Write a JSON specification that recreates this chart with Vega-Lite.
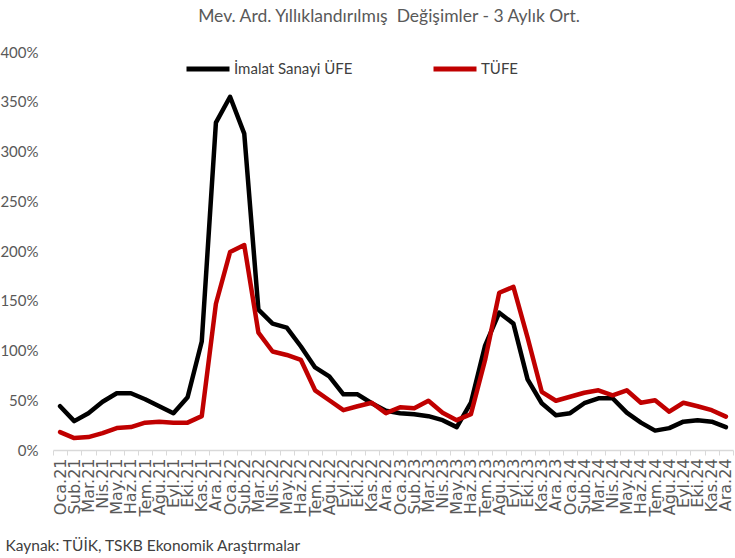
{
  "$schema": "https://vega.github.io/schema/vega-lite/v6.json",
  "width": 680,
  "height": 398,
  "autosize": {"type": "none"},
  "padding": {"left": 53, "top": 52, "right": 2, "bottom": 108},
  "background": "white",
  "config": {"view": {"stroke": null}},
  "title": {
    "text": "Mev. Ard. Yıllıklandırılmış\u00a0 Değişimler - 3 Aylık Ort.",
    "font": "Lato",
    "fontSize": 17.5,
    "fontWeight": "normal",
    "color": "#595959",
    "anchor": "middle",
    "dx": -4,
    "offset": 20
  },
  "data": {
    "values": [
      {"ay":"Oca.21","seri":"İmalat Sanayi ÜFE","deger":0.44},
      {"ay":"Şub.21","seri":"İmalat Sanayi ÜFE","deger":0.29},
      {"ay":"Mar.21","seri":"İmalat Sanayi ÜFE","deger":0.37},
      {"ay":"Nis.21","seri":"İmalat Sanayi ÜFE","deger":0.485},
      {"ay":"May.21","seri":"İmalat Sanayi ÜFE","deger":0.57},
      {"ay":"Haz.21","seri":"İmalat Sanayi ÜFE","deger":0.57},
      {"ay":"Tem.21","seri":"İmalat Sanayi ÜFE","deger":0.51},
      {"ay":"Ağu.21","seri":"İmalat Sanayi ÜFE","deger":0.44},
      {"ay":"Eyl.21","seri":"İmalat Sanayi ÜFE","deger":0.37},
      {"ay":"Eki.21","seri":"İmalat Sanayi ÜFE","deger":0.53},
      {"ay":"Kas.21","seri":"İmalat Sanayi ÜFE","deger":1.09},
      {"ay":"Ara.21","seri":"İmalat Sanayi ÜFE","deger":3.29},
      {"ay":"Oca.22","seri":"İmalat Sanayi ÜFE","deger":3.55},
      {"ay":"Şub.22","seri":"İmalat Sanayi ÜFE","deger":3.18},
      {"ay":"Mar.22","seri":"İmalat Sanayi ÜFE","deger":1.41},
      {"ay":"Nis.22","seri":"İmalat Sanayi ÜFE","deger":1.27},
      {"ay":"May.22","seri":"İmalat Sanayi ÜFE","deger":1.23},
      {"ay":"Haz.22","seri":"İmalat Sanayi ÜFE","deger":1.04},
      {"ay":"Tem.22","seri":"İmalat Sanayi ÜFE","deger":0.83},
      {"ay":"Ağu.22","seri":"İmalat Sanayi ÜFE","deger":0.74},
      {"ay":"Eyl.22","seri":"İmalat Sanayi ÜFE","deger":0.56},
      {"ay":"Eki.22","seri":"İmalat Sanayi ÜFE","deger":0.56},
      {"ay":"Kas.22","seri":"İmalat Sanayi ÜFE","deger":0.47},
      {"ay":"Ara.22","seri":"İmalat Sanayi ÜFE","deger":0.395},
      {"ay":"Oca.23","seri":"İmalat Sanayi ÜFE","deger":0.37},
      {"ay":"Şub.23","seri":"İmalat Sanayi ÜFE","deger":0.36},
      {"ay":"Mar.23","seri":"İmalat Sanayi ÜFE","deger":0.34},
      {"ay":"Nis.23","seri":"İmalat Sanayi ÜFE","deger":0.30},
      {"ay":"May.23","seri":"İmalat Sanayi ÜFE","deger":0.23},
      {"ay":"Haz.23","seri":"İmalat Sanayi ÜFE","deger":0.475},
      {"ay":"Tem.23","seri":"İmalat Sanayi ÜFE","deger":1.05},
      {"ay":"Ağu.23","seri":"İmalat Sanayi ÜFE","deger":1.38},
      {"ay":"Eyl.23","seri":"İmalat Sanayi ÜFE","deger":1.27},
      {"ay":"Eki.23","seri":"İmalat Sanayi ÜFE","deger":0.71},
      {"ay":"Kas.23","seri":"İmalat Sanayi ÜFE","deger":0.47},
      {"ay":"Ara.23","seri":"İmalat Sanayi ÜFE","deger":0.35},
      {"ay":"Oca.24","seri":"İmalat Sanayi ÜFE","deger":0.37},
      {"ay":"Şub.24","seri":"İmalat Sanayi ÜFE","deger":0.47},
      {"ay":"Mar.24","seri":"İmalat Sanayi ÜFE","deger":0.52},
      {"ay":"Nis.24","seri":"İmalat Sanayi ÜFE","deger":0.52},
      {"ay":"May.24","seri":"İmalat Sanayi ÜFE","deger":0.375},
      {"ay":"Haz.24","seri":"İmalat Sanayi ÜFE","deger":0.275},
      {"ay":"Tem.24","seri":"İmalat Sanayi ÜFE","deger":0.195},
      {"ay":"Ağu.24","seri":"İmalat Sanayi ÜFE","deger":0.22},
      {"ay":"Eyl.24","seri":"İmalat Sanayi ÜFE","deger":0.285},
      {"ay":"Eki.24","seri":"İmalat Sanayi ÜFE","deger":0.30},
      {"ay":"Kas.24","seri":"İmalat Sanayi ÜFE","deger":0.285},
      {"ay":"Ara.24","seri":"İmalat Sanayi ÜFE","deger":0.23},
      {"ay":"Oca.21","seri":"TÜFE","deger":0.18},
      {"ay":"Şub.21","seri":"TÜFE","deger":0.12},
      {"ay":"Mar.21","seri":"TÜFE","deger":0.13},
      {"ay":"Nis.21","seri":"TÜFE","deger":0.17},
      {"ay":"May.21","seri":"TÜFE","deger":0.22},
      {"ay":"Haz.21","seri":"TÜFE","deger":0.23},
      {"ay":"Tem.21","seri":"TÜFE","deger":0.275},
      {"ay":"Ağu.21","seri":"TÜFE","deger":0.285},
      {"ay":"Eyl.21","seri":"TÜFE","deger":0.275},
      {"ay":"Eki.21","seri":"TÜFE","deger":0.275},
      {"ay":"Kas.21","seri":"TÜFE","deger":0.34},
      {"ay":"Ara.21","seri":"TÜFE","deger":1.47},
      {"ay":"Oca.22","seri":"TÜFE","deger":1.99},
      {"ay":"Şub.22","seri":"TÜFE","deger":2.06},
      {"ay":"Mar.22","seri":"TÜFE","deger":1.18},
      {"ay":"Nis.22","seri":"TÜFE","deger":0.99},
      {"ay":"May.22","seri":"TÜFE","deger":0.955},
      {"ay":"Haz.22","seri":"TÜFE","deger":0.905},
      {"ay":"Tem.22","seri":"TÜFE","deger":0.60},
      {"ay":"Ağu.22","seri":"TÜFE","deger":0.50},
      {"ay":"Eyl.22","seri":"TÜFE","deger":0.40},
      {"ay":"Eki.22","seri":"TÜFE","deger":0.44},
      {"ay":"Kas.22","seri":"TÜFE","deger":0.475},
      {"ay":"Ara.22","seri":"TÜFE","deger":0.37},
      {"ay":"Oca.23","seri":"TÜFE","deger":0.43},
      {"ay":"Şub.23","seri":"TÜFE","deger":0.42},
      {"ay":"Mar.23","seri":"TÜFE","deger":0.495},
      {"ay":"Nis.23","seri":"TÜFE","deger":0.375},
      {"ay":"May.23","seri":"TÜFE","deger":0.30},
      {"ay":"Haz.23","seri":"TÜFE","deger":0.36},
      {"ay":"Tem.23","seri":"TÜFE","deger":0.905},
      {"ay":"Ağu.23","seri":"TÜFE","deger":1.58},
      {"ay":"Eyl.23","seri":"TÜFE","deger":1.64},
      {"ay":"Eki.23","seri":"TÜFE","deger":1.13},
      {"ay":"Kas.23","seri":"TÜFE","deger":0.585},
      {"ay":"Ara.23","seri":"TÜFE","deger":0.495},
      {"ay":"Oca.24","seri":"TÜFE","deger":0.535},
      {"ay":"Şub.24","seri":"TÜFE","deger":0.575},
      {"ay":"Mar.24","seri":"TÜFE","deger":0.60},
      {"ay":"Nis.24","seri":"TÜFE","deger":0.55},
      {"ay":"May.24","seri":"TÜFE","deger":0.60},
      {"ay":"Haz.24","seri":"TÜFE","deger":0.475},
      {"ay":"Tem.24","seri":"TÜFE","deger":0.50},
      {"ay":"Ağu.24","seri":"TÜFE","deger":0.385},
      {"ay":"Eyl.24","seri":"TÜFE","deger":0.475},
      {"ay":"Eki.24","seri":"TÜFE","deger":0.44},
      {"ay":"Kas.24","seri":"TÜFE","deger":0.40},
      {"ay":"Ara.24","seri":"TÜFE","deger":0.335}
    ]
  },
  "mark": {"type": "line", "strokeWidth": 4.5, "strokeJoin": "round", "strokeCap": "round"},
  "encoding": {
    "x": {
      "field": "ay",
      "type": "ordinal",
      "sort": null,
      "scale": {"type": "band", "paddingInner": 0, "paddingOuter": 0},
      "axis": {
        "title": "Kaynak: TÜİK, TSKB Ekonomik Araştırmalar",
        "titleFont": "Lato",
        "titleFontSize": 15.5,
        "titleFontWeight": "normal",
        "titleColor": "#404040",
        "titleAnchor": "start",
        "titleAlign": "left",
        "titleBaseline": "alphabetic",
        "titleX": -48,
        "titleY": 100,
        "labelAngle": -90,
        "labelAlign": "right",
        "labelBaseline": "middle",
        "labelFont": "DejaVu Sans",
        "labelFontSize": 16,
        "labelColor": "#595959",
        "labelPadding": 3,
        "labelOverlap": false,
        "tickBand": "extent",
        "domainColor": "#d9d9d9",
        "domainWidth": 1.5,
        "tickColor": "#d9d9d9",
        "tickSize": 5,
        "grid": false
      }
    },
    "y": {
      "field": "deger",
      "type": "quantitative",
      "scale": {"domain": [0, 4], "nice": false},
      "axis": {
        "title": null,
        "values": [0, 0.5, 1, 1.5, 2, 2.5, 3, 3.5, 4],
        "format": ".0%",
        "labelFont": "Lato",
        "labelFontSize": 15,
        "labelColor": "#595959",
        "labelPadding": 15,
        "domain": false,
        "ticks": false,
        "grid": false
      }
    },
    "color": {
      "field": "seri",
      "type": "nominal",
      "scale": {"domain": ["İmalat Sanayi ÜFE", "TÜFE"], "range": ["#000000", "#C00000"]},
      "legend": {
        "title": null,
        "orient": "none",
        "direction": "horizontal",
        "legendX": 131,
        "legendY": -7,
        "symbolType": "stroke",
        "symbolSize": 1849,
        "symbolStrokeWidth": 5,
        "labelFont": "Lato",
        "labelFontSize": 15,
        "labelColor": "#404040",
        "labelOffset": 2,
        "columnPadding": 70
      }
    }
  }
}
